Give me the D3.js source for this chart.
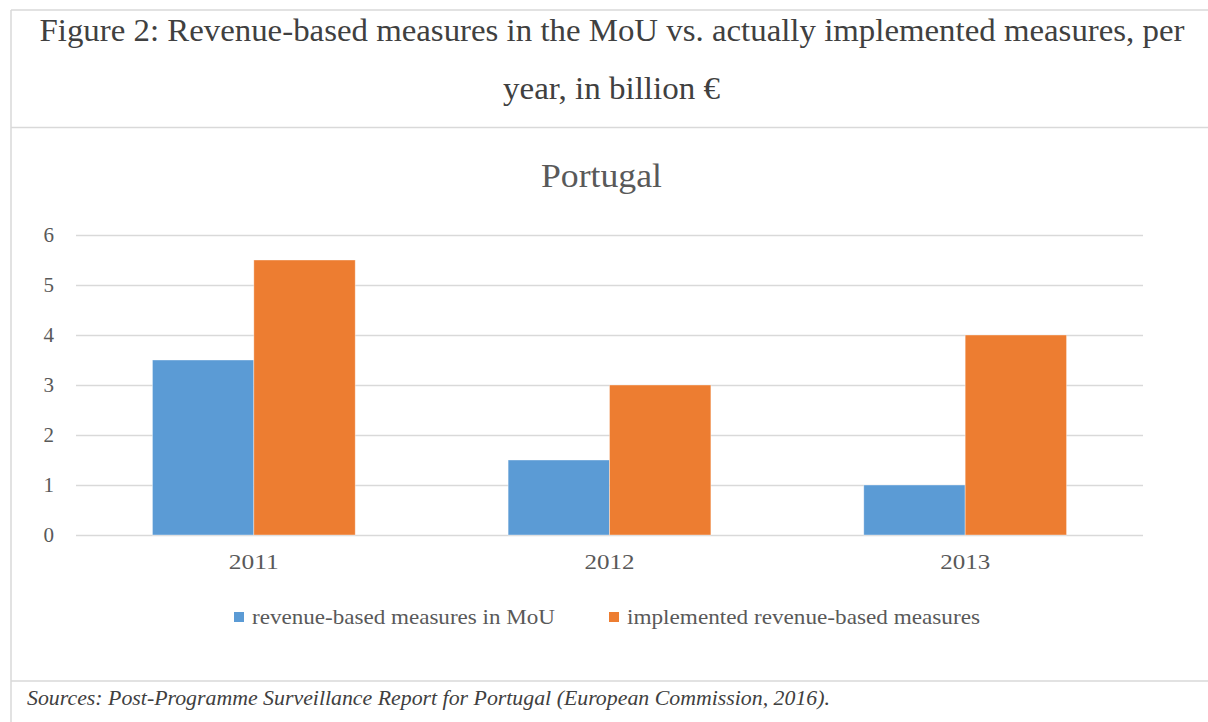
<!DOCTYPE html>
<html>
<head>
<meta charset="utf-8">
<script src="https://cdn.jsdelivr.net/npm/d3@7"></script>
<style>
  html, body { margin: 0; padding: 0; background: #fff; }
  svg { display: block; }
  text { font-family: "Liberation Serif", "DejaVu Serif", serif; fill: #595959; }
</style>
</head>
<body>
<svg id="chart" width="1208" height="722"></svg>
<script>
// Revenue-based consolidation measures, Portugal, billion €
const years = ["2011", "2012", "2013"];
const seriesNames = ["revenue-based measures in MoU", "implemented revenue-based measures"];
const mouValues = [3.5, 1.5, 1.0];
const implementedValues = [5.5, 3.0, 4.0];
const yTicks = [0, 1, 2, 3, 4, 5, 6];
const colors = ["#5b9bd5", "#ed7d31"];

const svg = d3.select("#chart");
const frame = "#d9d9d9";

// Condensed serif look: fix the run length of a text element
function fit(sel, len) {
  return sel.attr("textLength", len).attr("lengthAdjust", "spacingAndGlyphs");
}

// Table frame around the figure
svg.append("line").attr("x1", 11).attr("x2", 11).attr("y1", 10).attr("y2", 722)
  .attr("stroke", frame).attr("stroke-width", 1.5);
[10, 127.5, 681].forEach(y => {
  svg.append("line").attr("x1", 11).attr("x2", 1208).attr("y1", y).attr("y2", y)
    .attr("stroke", frame).attr("stroke-width", 1.5);
});

// Figure caption
fit(svg.append("text").attr("x", 612).attr("y", 41).attr("text-anchor", "middle")
  .style("font-size", "31px").style("fill", "#404040")
  .text("Figure 2: Revenue-based measures in the MoU vs. actually implemented measures, per"), 1145);
fit(svg.append("text").attr("x", 611.5).attr("y", 99).attr("text-anchor", "middle")
  .style("font-size", "31px").style("fill", "#404040")
  .text("year, in billion €"), 217);

// Chart title
fit(svg.append("text").attr("x", 601.5).attr("y", 187).attr("text-anchor", "middle")
  .style("font-size", "34px").text("Portugal"), 121);

// Scales
const x0 = d3.scaleBand().domain(years).range([76, 1143]).paddingInner(0).paddingOuter(0);
const x1 = d3.scaleBand().domain(seriesNames).range([0, x0.bandwidth()]).paddingInner(0).paddingOuter(0.754);
const y = d3.scaleLinear().domain([0, 6]).range([535, 235]);

// Gridlines and y labels
const yAxis = d3.axisLeft(y).tickValues(yTicks).tickSize(-(1143 - 76)).tickPadding(22).tickFormat(d3.format("d"));
const gy = svg.append("g").attr("transform", "translate(76,0)").call(yAxis);
gy.select(".domain").remove();
gy.selectAll(".tick line").attr("stroke", frame).attr("stroke-width", 1.5);
gy.selectAll(".tick text").style("font-size", "21px").style("fill", "#595959")
  .style("font-family", "'Liberation Serif', serif");

// Bars
const rows = years.map((yr, i) => ({ year: yr, values: [mouValues[i], implementedValues[i]] }));
const groups = svg.append("g").selectAll("g").data(rows).join("g")
  .attr("transform", d => `translate(${x0(d.year)},0)`);
groups.selectAll("rect").data(d => d.values.map((v, k) => ({ key: seriesNames[k], value: v, k })))
  .join("rect")
  .attr("x", d => x1(d.key))
  .attr("width", x1.bandwidth())
  .attr("y", d => y(d.value))
  .attr("height", d => y(0) - y(d.value))
  .attr("fill", d => colors[d.k])
  .attr("stroke", "#ffffff").attr("stroke-opacity", 0.5).attr("stroke-width", 0.75);

// x labels
const xAxis = d3.axisBottom(x0).tickSize(0).tickPadding(19);
const gx = svg.append("g").attr("transform", "translate(0,535)").call(xAxis);
gx.select(".domain").remove();
gx.selectAll(".tick text").style("font-size", "21px").style("fill", "#595959")
  .style("font-family", "'Liberation Serif', serif")
  .attr("textLength", 50).attr("lengthAdjust", "spacingAndGlyphs");

// Legend
const legendX = [234, 609];
const legendLen = [303, 353];
const legend = svg.append("g").selectAll("g").data(seriesNames).join("g")
  .attr("transform", (d, i) => `translate(${legendX[i]},612)`);
legend.append("rect").attr("width", 10).attr("height", 10).attr("fill", (d, i) => colors[i]);
legend.append("text").attr("x", 18).attr("y", 12).style("font-size", "22px").text(d => d)
  .attr("textLength", (d, i) => legendLen[i]).attr("lengthAdjust", "spacingAndGlyphs");

// Source note
fit(svg.append("text").attr("x", 27).attr("y", 705)
  .style("font-size", "21px").style("font-style", "italic").style("fill", "#404040")
  .text("Sources: Post-Programme Surveillance Report for Portugal (European Commission, 2016)."), 803);
</script>
</body>
</html>
